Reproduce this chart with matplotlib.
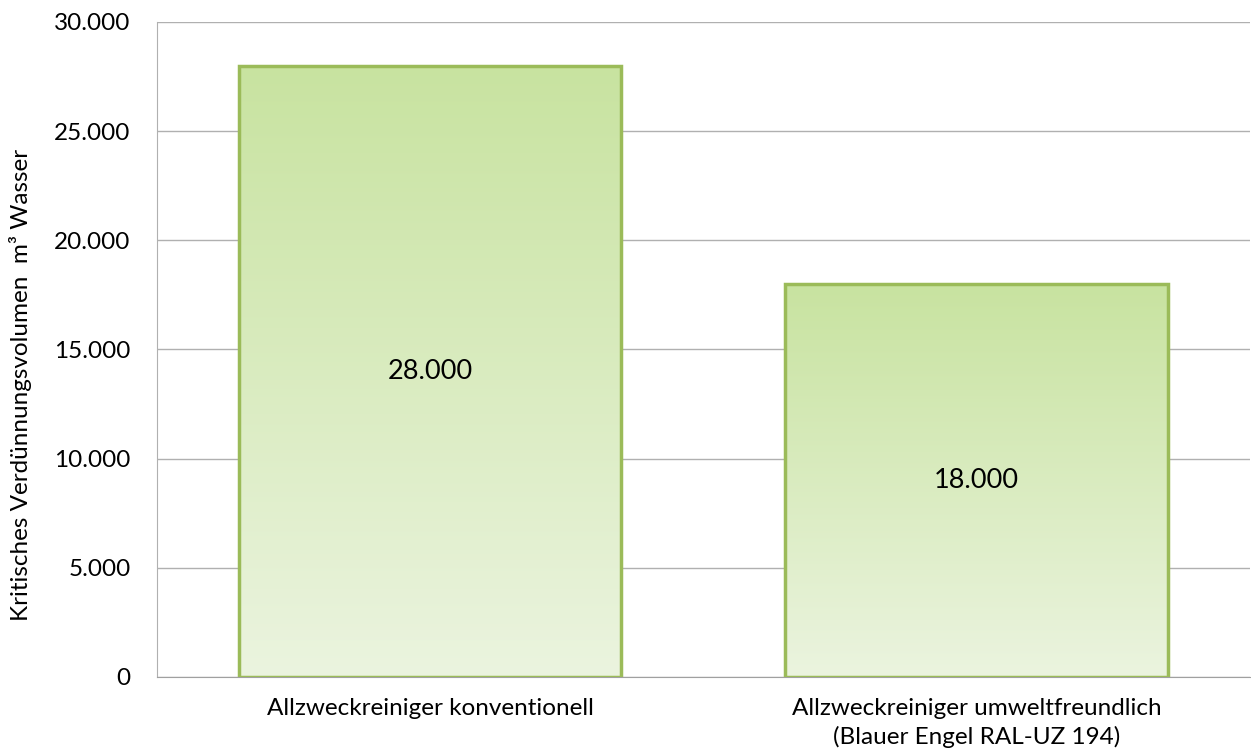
import numpy as np
import matplotlib
matplotlib.use('Agg')
import matplotlib.pyplot as plt
from matplotlib.colors import LinearSegmentedColormap

# chart data
categories = ['Allzweckreiniger konventionell',
              'Allzweckreiniger umweltfreundlich\n(Blauer Engel RAL-UZ 194)']
values = [28000, 18000]
value_labels = ['28.000', '18.000']
yticks = [0, 5000, 10000, 15000, 20000, 25000, 30000]
ytick_labels = ['0', '5.000', '10.000', '15.000', '20.000', '25.000', '30.000']

plt.rcParams['font.family'] = ['Lato', 'DejaVu Sans']

fig = plt.figure(figsize=(12.51, 7.56), dpi=100)
ax = fig.add_axes([0.1255, 0.1045, 0.8735, 0.8665])

x = np.arange(len(categories))
bars = ax.bar(x, values, width=0.7, facecolor='none', edgecolor='#9bbb59',
              linewidth=2.5, zorder=3)

# gradient fill inside each bar
cmap = LinearSegmentedColormap.from_list('grn', ['#ebf4df', '#c8e3a0'])
grad = np.linspace(0, 1, 256).reshape(-1, 1)
for b in bars:
    x0, w, h = b.get_x(), b.get_width(), b.get_height()
    im = ax.imshow(grad, cmap=cmap, origin='lower', aspect='auto',
                   extent=[x0, x0 + w, 0, h], zorder=2)
    im.set_clip_path(b)

for xi, v, lab in zip(x, values, value_labels):
    ax.text(xi, v / 2, lab, ha='center', va='center', fontsize=19.5, color='black', zorder=4)

ax.set_xlim(-0.5, 1.5)
ax.set_ylim(0, 30000)
ax.set_yticks(yticks)
ax.set_yticklabels(ytick_labels, fontsize=17.5)
ax.set_xticks(x)
ax.set_xticklabels(categories, fontsize=17.5, linespacing=1.4)
ax.tick_params(axis='y', length=0, pad=19)
ax.tick_params(axis='x', length=0, pad=15)
ax.yaxis.grid(True, color='#b0b0b0', linewidth=1)
ax.set_axisbelow(True)
for s in ['top', 'right']:
    ax.spines[s].set_visible(False)
ax.spines['left'].set_color('#b0b0b0')
ax.spines['bottom'].set_color('#a0a0a0')
ax.set_ylabel('Kritisches Verdünnungsvolumen  m³ Wasser', fontsize=17.5)
ax.yaxis.set_label_coords(-0.1144, 0.446)

fig.savefig('out.png', dpi=100)
